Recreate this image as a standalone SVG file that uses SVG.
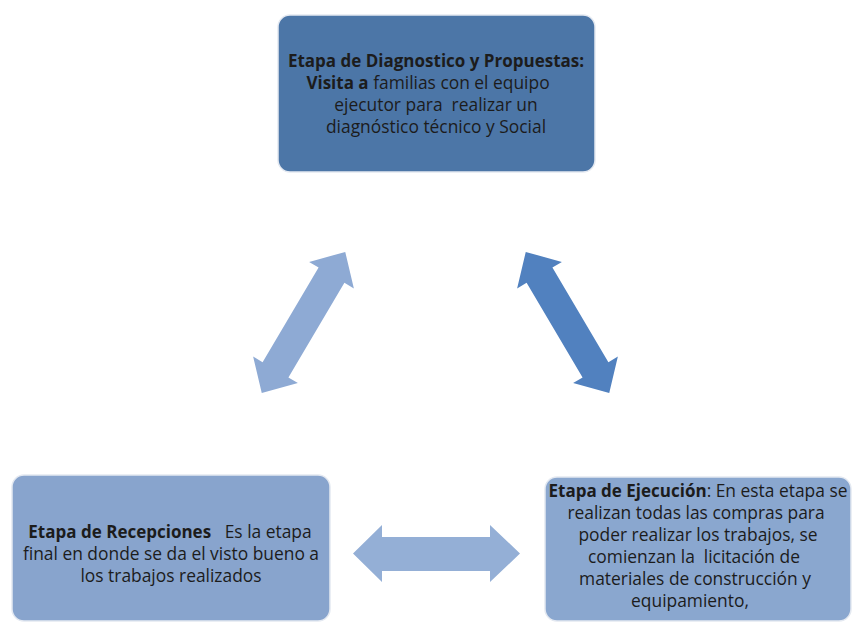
<svg xmlns="http://www.w3.org/2000/svg" width="855" height="626" viewBox="0 0 855 626">
<style>
.t{font-family:"Open Sans",Lato,"Liberation Sans",sans-serif;font-size:17.4px;fill:#1c1c1c;text-anchor:middle}
.b{font-weight:bold;font-size:17px}
.box{stroke:#e4e9f1;stroke-width:1.5}
</style>
<rect width="855" height="626" fill="#ffffff"/>
<g id="connectors">
<polygon id="arrow-left" fill="#8eaad4" transform="translate(303.5,322.5) rotate(-59.4)" points="82,0 55,-26 55,-15 -55,-15 -55,-26 -82,0 -55,26 -55,15 55,15 55,26"/>
<polygon id="arrow-right" fill="#5181bf" transform="translate(567.5,322.5) rotate(59.4)" points="82,0 55,-26 55,-15 -55,-15 -55,-26 -82,0 -55,26 -55,15 55,15 55,26"/>
<polygon id="arrow-bottom" fill="#94afd6" points="353,553.5 382,525 382,537 490,537 490,525 520,553.5 490,582 490,571 382,571 382,582"/>
</g>
<g id="node-diagnostico">
<rect class="box" x="278" y="15" width="317" height="157" rx="12" fill="#4c76a7"/>
<text class="t b" x="436" y="66.5">Etapa de Diagnostico y Propuestas:</text>
<text class="t" x="428" y="88.5"><tspan class="b">Visita a</tspan> familias con el equipo</text>
<text class="t" x="436" y="110.5">ejecutor para&#160; realizar un</text>
<text class="t" x="436" y="132.5">diagnóstico técnico y Social</text>
</g>
<g id="node-recepciones">
<rect class="box" x="12" y="475" width="318" height="146" rx="12" fill="#88a4cd"/>
<text class="t" x="170" y="538"><tspan class="b">Etapa de Recepciones</tspan>&#160;&#160; Es la etapa</text>
<text class="t" x="171" y="560">final en donde se da el visto bueno a</text>
<text class="t" x="171" y="582">los trabajos realizados</text>
</g>
<g id="node-ejecucion">
<rect class="box" x="545" y="477" width="306" height="144" rx="12" fill="#8aa7cf"/>
<text class="t" x="698" y="497"><tspan class="b">Etapa de Ejecución</tspan>: En esta etapa se</text>
<text class="t" x="696" y="519">realizan todas las compras para</text>
<text class="t" x="698" y="541">poder realizar los trabajos, se</text>
<text class="t" x="694" y="563">comienzan la&#160; licitación de</text>
<text class="t" x="695" y="585">materiales de construcción y</text>
<text class="t" x="690" y="607">equipamiento,</text>
</g>
</svg>
